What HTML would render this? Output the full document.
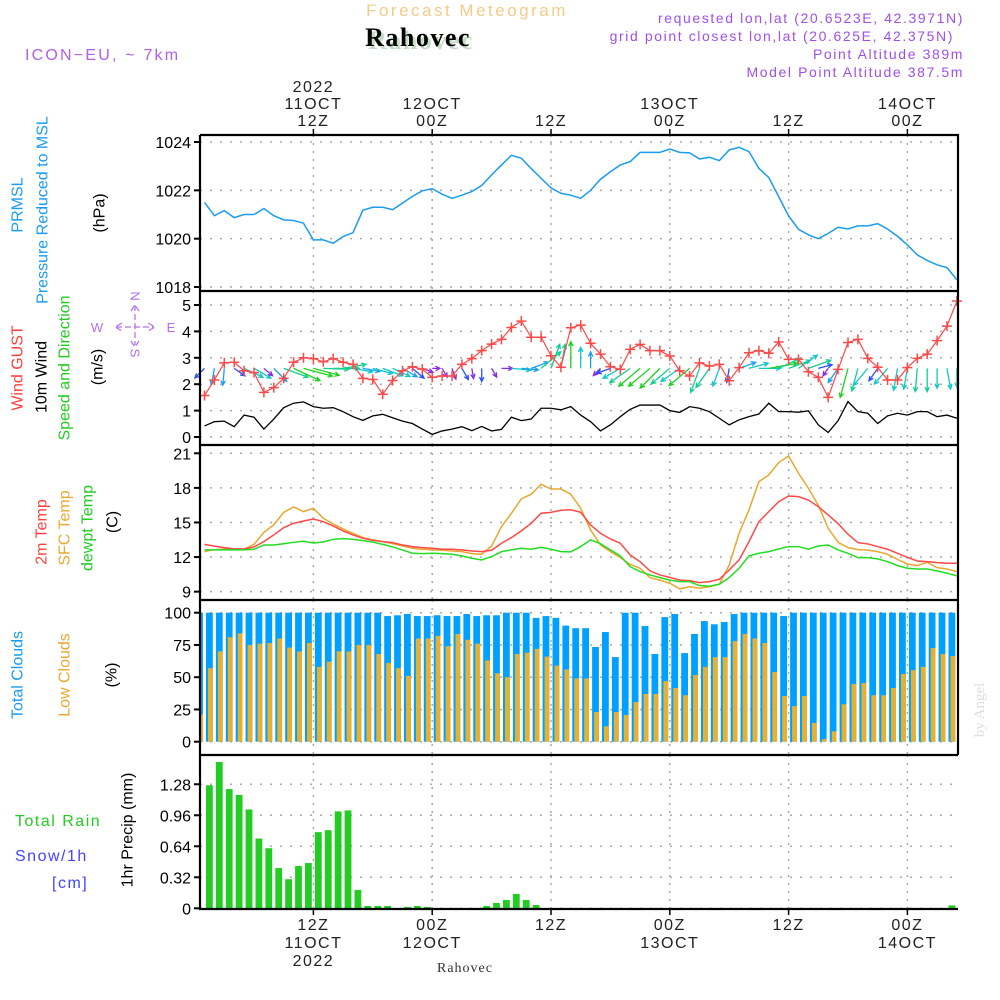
<!DOCTYPE html>
<html><head><meta charset="utf-8"><style>
body{margin:0;background:#fff}
svg{display:block}
text{font-family:"Liberation Sans",sans-serif}
text.serif{font-family:"Liberation Serif",serif}
</style></head><body>
<svg id="chart" width="1000" height="1000" viewBox="0 0 1000 1000" xmlns="http://www.w3.org/2000/svg">
<rect width="1000" height="1000" fill="#fff"/>
<text x="467" y="16" text-anchor="middle" font-size="17" letter-spacing="2.5" fill="#f2cc88">Forecast Meteogram</text>
<text class="serif" x="421" y="49" text-anchor="middle" font-weight="bold" font-size="26" letter-spacing="1.5" fill="#c6dcc6">Rahovec</text>
<text class="serif" x="418" y="46" text-anchor="middle" font-weight="bold" font-size="26" letter-spacing="1.5" fill="#000">Rahovec</text>
<text x="25" y="60" font-size="16" letter-spacing="2.2" fill="#b060e8">ICON−EU, ~ 7km</text>
<g font-size="14" letter-spacing="1.6" fill="#a050e8" text-anchor="end">
<text x="964" y="23">requested lon,lat (20.6523E, 42.3971N)</text>
<text x="954" y="41">grid point closest lon,lat (20.625E, 42.375N)</text>
<text x="964" y="59">Point Altitude 389m</text>
<text x="964" y="77">Model Point Altitude 387.5m</text>
</g>
<text class="serif" transform="translate(984,710) rotate(-90)" text-anchor="middle" font-size="15" fill="#ddd">by Angel</text>
<text class="serif" x="465" y="972" text-anchor="middle" font-size="14" letter-spacing="1" fill="#333">Rahovec</text>
<g id="g"></g>
</svg>
<script>
// ---- data (hourly from 01Z 11 OCT 2022) ----
const pressure=[1021.5,1020.95,1021.16,1020.87,1021.0,1021.0,1021.25,1020.95,1020.78,1020.75,1020.64,1019.95,1019.95,1019.81,1020.09,1020.25,1021.18,1021.3,1021.3,1021.2,1021.47,1021.75,1021.98,1022.07,1021.84,1021.67,1021.8,1021.95,1022.2,1022.64,1023.05,1023.45,1023.33,1022.9,1022.5,1022.1,1021.88,1021.8,1021.67,1022.0,1022.46,1022.77,1023.05,1023.19,1023.57,1023.57,1023.57,1023.71,1023.57,1023.55,1023.3,1023.37,1023.23,1023.67,1023.78,1023.6,1022.91,1022.53,1021.74,1020.94,1020.39,1020.16,1020.0,1020.22,1020.47,1020.4,1020.53,1020.53,1020.62,1020.4,1020.1,1019.74,1019.33,1019.1,1018.92,1018.8,1018.3];
const gust=[1.57,2.16,2.81,2.83,2.51,2.44,1.69,1.87,2.22,2.83,3.0,2.97,2.85,2.97,2.83,2.75,2.22,2.18,1.62,2.14,2.51,2.66,2.57,2.26,2.31,2.31,2.75,2.97,3.27,3.52,3.70,4.15,4.39,3.78,3.78,3.08,2.64,4.14,4.24,3.55,3.14,2.66,2.56,3.32,3.51,3.27,3.27,3.07,2.51,2.31,2.81,2.69,2.75,2.13,2.63,3.19,3.27,3.17,3.6,2.94,2.94,2.47,2.26,1.50,2.56,3.58,3.7,2.98,2.64,2.16,2.16,2.63,2.98,3.14,3.65,4.2,5.15];
const wind10=[0.42,0.58,0.6,0.39,0.83,0.75,0.3,0.68,1.11,1.28,1.33,1.15,1.09,1.11,0.96,0.77,0.63,0.8,0.86,0.73,0.6,0.51,0.3,0.10,0.23,0.3,0.39,0.24,0.4,0.23,0.29,0.75,0.62,0.68,1.09,1.09,1.03,1.15,0.83,0.58,0.23,0.46,0.77,1.05,1.21,1.21,1.21,1.0,0.93,1.15,1.09,0.96,0.71,0.46,0.65,0.77,0.87,1.28,0.96,0.96,0.94,0.99,0.46,0.17,0.62,1.34,0.96,0.9,0.51,0.8,0.9,0.83,0.96,0.96,0.77,0.83,0.71];
const windAngle=[135,100,95,35,25,30,40,45,20,25,15,15,2,0,-10,10,10,15,20,25,30,40,20,0,60,70,60,80,90,60,0,5,5,-20,-40,-70,-80,-90,-90,-90,135,160,150,145,140,140,135,140,145,140,110,125,110,100,-20,-15,0,-10,-25,-20,-35,-20,-15,125,125,105,105,130,125,130,100,100,95,90,90,80,90];
const temp2m=[13.1,12.95,12.82,12.7,12.7,12.88,13.34,13.92,14.55,14.93,15.13,15.3,15.07,14.7,14.27,13.92,13.63,13.46,13.34,13.25,13.05,12.91,12.82,12.76,12.68,12.68,12.62,12.53,12.47,12.59,13.2,13.69,14.27,14.93,15.8,15.88,16.06,16.1,15.88,14.78,14.06,13.57,13.2,12.18,11.6,10.8,10.45,10.24,10.0,9.96,9.78,9.87,10.07,10.88,11.75,13.34,15.07,15.94,16.8,17.3,17.24,16.95,16.37,15.65,14.9,13.98,13.25,13.14,12.91,12.68,12.33,11.98,11.66,11.6,11.52,11.46,11.46];
const tempSfc=[12.47,12.65,12.7,12.7,12.7,13.1,14.15,14.79,15.88,16.35,15.94,16.23,15.36,14.87,14.44,14.06,13.69,13.49,13.34,13.16,12.96,12.76,12.68,12.62,12.59,12.53,12.47,12.3,12.24,12.96,14.64,15.8,17.04,17.45,18.31,17.9,17.9,17.45,16.23,14.35,13.05,12.47,11.95,11.37,11.03,10.22,10.0,9.73,9.24,9.44,9.3,9.44,9.64,11.32,14.06,16.1,18.54,19.12,20.2,20.77,19.27,17.97,16.5,14.5,13.28,12.82,12.65,12.6,12.47,12.24,11.8,11.4,11.26,11.55,11.08,10.97,10.74];
const dewpt=[12.62,12.62,12.62,12.62,12.62,12.68,13.05,13.05,13.16,13.28,13.37,13.22,13.31,13.54,13.6,13.54,13.43,13.31,13.1,12.88,12.62,12.33,12.3,12.33,12.3,12.24,12.1,11.9,11.75,12.04,12.47,12.62,12.76,12.68,12.85,12.68,12.47,12.45,12.91,13.49,13.16,12.62,12.1,11.17,10.74,10.45,10.22,10.0,9.87,9.87,9.53,9.47,9.64,10.22,11.03,12.1,12.33,12.47,12.7,12.91,12.91,12.68,12.96,13.05,12.62,12.33,11.95,11.95,11.84,11.6,11.26,11.03,10.97,10.97,10.8,10.6,10.37];
// bars: 78 hourly bars starting 00Z 11 OCT
const totalClouds=[100,100,100,100,100,100,100,100,100,100,100,100,100,100,100,100,100,100,100,97.4,98,99,97.4,97.4,98,97.4,97.4,99,97.4,98,98,100,100,100,96,97.4,96,90,88,88,73.4,85,65.6,100,100,89.7,68,96.6,99,68.7,83.5,93.5,91,92.8,99,100,100,100,100,97.4,100,100,100,100,100,100,100,100,100,100,100,100,100,100,100,100,100,80.4];
const lowClouds=[21,57,70,81,84,75,76,76.5,80,73,70,76.5,58,62,70,70,75,75,68,61,57,51,80,80,82,74,83.5,79,76,63,53,50,68,69,72,66,59,56,49,49,23,12,23,20.7,30.7,37,37,47,41.6,36,51.7,58,65.6,65.6,78,83.5,80,76.5,54,35.4,27.6,35.4,14.5,2,8,29,44.7,45.5,36,36,41.6,52.5,55.5,58,72.6,68,66.4,65.6];
const precip=[0,1.27,1.51,1.23,1.17,1.02,0.72,0.62,0.415,0.30,0.436,0.467,0.786,0.806,1.0,1.01,0.19,0.024,0.024,0.024,0,0.014,0.024,0.014,0,0,0,0,0,0.024,0.055,0.086,0.148,0.086,0.034,0,0,0,0,0,0,0,0,0,0,0,0,0,0,0,0,0,0,0,0,0,0,0,0,0,0,0,0,0,0,0,0,0,0,0,0,0,0,0,0,0,0.03,0];
const pTicks=[1024,1022,1020,1018];
const wTicks=[0,1,2,3,4,5];
const tTicks=[9,12,15,18,21];
const cTicks=[0,25,50,75,100];
const rTicks=[0,0.32,0.64,0.96,1.28];
const rTickLabels=["0","0.32","0.64","0.96","1.28"];
const timeMarks=[11,23,35,47,59,71];
const topLabels=[["2022","11OCT","12Z"],["","12OCT","00Z"],["","","12Z"],["","13OCT","00Z"],["","","12Z"],["","14OCT","00Z"]];
const botLabels=[["12Z","11OCT","2022"],["00Z","12OCT",""],["12Z","",""],["00Z","13OCT",""],["12Z","",""],["00Z","14OCT",""]];

// ---- scales ----
const X0=200,X1=958;
const xi=i=>204.5+i*9.9;
const yP=v=>142+(1024-v)*24.17;
const yW=v=>437-v*26.4;
const yT=v=>453.3+(21-v)*11.53;
const yC=v=>741.7-v*1.29;
const yR=v=>908.3-v*96.9;
const NS="http://www.w3.org/2000/svg";
const G=document.getElementById('g');
function mk(tag,attrs,parent){const e=document.createElementNS(NS,tag);for(const k in attrs)e.setAttribute(k,attrs[k]);(parent||G).appendChild(e);return e;}
function txt(s,attrs,parent){const e=mk('text',attrs,parent);e.textContent=s;return e;}

const defs=mk('defs',{});
const cp=mk('clipPath',{id:'plotclip'},defs);
mk('rect',{x:X0,y:130,width:X1-X0,height:785},cp);

const panels=[
 {top:135,bot:291,ticks:pTicks,lab:pTicks.map(String),f:yP,name:'pressure'},
 {top:291,bot:445,ticks:wTicks,lab:wTicks.map(String),f:yW,name:'wind'},
 {top:445,bot:600,ticks:tTicks,lab:tTicks.map(String),f:yT,name:'temperature'},
 {top:600,bot:755,ticks:cTicks,lab:cTicks.map(String),f:yC,name:'clouds'},
 {top:755,bot:909,ticks:rTicks,lab:rTickLabels,f:yR,name:'precip'}
];
panels.forEach((p,pi)=>{
 const grp=mk('g',{});
 
 
 timeMarks.forEach(h=>{
  const l=mk('line',{x1:xi(h),x2:xi(h),y1:p.top,y2:p.bot,stroke:'#aaa','stroke-width':1.5,'stroke-dasharray':'2,6'},grp);
  
  
 });
 p.ticks.forEach((t,k)=>{
  const y=p.f(t);
  const l=mk('line',{x1:X0,x2:X1,y1:y,y2:y,stroke:'#aaa','stroke-width':1.5,'stroke-dasharray':'2,8'},grp);
  
  
  const tk=mk('line',{x1:X0-6,x2:X0,y1:y,y2:y,stroke:'#000','stroke-width':2},grp);
  
  
  const tl=txt(p.lab[k],{x:X0-9,y:y+6,'text-anchor':'end','font-size':16,fill:'#000'},grp);
  
  
 });
});

const pl=mk('polyline',{points:pressure.map((v,i)=>xi(i)+','+yP(v)).join(' '),fill:'none',stroke:'#1a9cf0','stroke-width':1.5,'clip-path':'url(#plotclip)'});



const wl=mk('polyline',{points:wind10.map((v,i)=>xi(i)+','+yW(v)).join(' '),fill:'none',stroke:'#000','stroke-width':1.3});



function windColor(s){if(s<0.35)return '#8a2be2';if(s<0.55)return '#2a50ff';if(s<0.7)return '#18a0f0';if(s<0.95)return '#10c8c8';if(s<1.15)return '#10d090';return '#20d020';}
const ag=mk('g',{});


windAngle.forEach((a,i)=>{
 const s=wind10[i],L=6+s*18,r=a*Math.PI/180;
 const x0=xi(i),y0=yW(2.6),x1=x0+L*Math.cos(r),y1=y0+L*Math.sin(r);
 const c=windColor(s);
 const h1=r+Math.PI-0.45,h2=r+Math.PI+0.45;
 const p=mk('path',{d:`M${x0},${y0}L${x1},${y1}M${x1+5*Math.cos(h1)},${y1+5*Math.sin(h1)}L${x1},${y1}L${x1+5*Math.cos(h2)},${y1+5*Math.sin(h2)}`,stroke:c,'stroke-width':1.3,fill:'none'},ag);
 
 
});

const gl=mk('polyline',{points:gust.map((v,i)=>xi(i)+','+yW(v)).join(' '),fill:'none',stroke:'#ff4848','stroke-width':1.2});


gust.forEach((v,i)=>{
 const x=xi(i),y=yW(v);
 const m=mk('path',{d:`M${x-5},${y}H${x+5}M${x},${y-5}V${y+5}`,stroke:'#ff4848','stroke-width':1.5});
 
 
});

[[tempSfc,'#e8a830','sfc-temp-line'],[temp2m,'#ff4848','temp-2m-line'],[dewpt,'#22dd22','dewpoint-line']].forEach(([arr,c,n])=>{
 const l=mk('polyline',{points:arr.map((v,i)=>xi(i)+','+yT(v)).join(' '),fill:'none',stroke:c,'stroke-width':1.5});
 
 
});

const cg=mk('g',{'clip-path':'url(#plotclip)'});


totalClouds.forEach((v,j)=>{
 const x=xi(j-1)+1.5;
 const b=mk('rect',{x:x,y:yC(v),width:6.8,height:yC(0)-yC(v),fill:'#00a0ff'},cg);
 
 
 const lv=lowClouds[j];
 const o=mk('rect',{x:x+2,y:yC(lv),width:4.8,height:yC(0)-yC(lv),fill:'#e8b030'},cg);
 
 
});

const rg=mk('g',{'clip-path':'url(#plotclip)'});


precip.forEach((v,j)=>{
 if(v<=0)return;
 const b=mk('rect',{x:xi(j-1)+1.5,y:yR(v),width:6.8,height:yR(0)-yR(v),fill:'#22cc22'},rg);
 
 
});

const fg=mk('g',{stroke:'#000','stroke-width':2.2,fill:'none'});


mk('path',{d:`M${X0},135H${X1}V755M${X0},135V909H${X1}M${X0},291H${X1}M${X0},445H${X1}M${X0},600H${X1}M${X0},755H${X1}`},fg);

timeMarks.forEach((h,k)=>{
 const x=xi(h);
 const t1=mk('line',{x1:x,x2:x,y1:129,y2:135,stroke:'#000','stroke-width':1.5});
 
 
 const t2=mk('line',{x1:x,x2:x,y1:909,y2:915,stroke:'#000','stroke-width':1.5});
 
 
 topLabels[k].forEach((s,r)=>{if(!s)return;
  const t=txt(s,{x:x,y:92+r*17,'text-anchor':'middle','font-size':16,'letter-spacing':1.5,fill:'#222'});
  
  
 });
 botLabels[k].forEach((s,r)=>{if(!s)return;
  const t=txt(s,{x:x,y:930+r*18,'text-anchor':'middle','font-size':16,'letter-spacing':1.5,fill:'#222'});
  
  
 });
});
</script>
<script>
(function(){
const NS="http://www.w3.org/2000/svg";
const svg=document.getElementById('chart');
const labs=[
 ['PRMSL',18,205,'#1a9cf0','prmsl-label'],
 ['Pressure Reduced to MSL',43,210,'#1a9cf0','pressure-label'],
 ['(hPa)',100,213,'#000','hpa-unit-label'],
 ['Wind GUST',18,368,'#ff4040','gust-label'],
 ['10m Wind',42,377,'#000','wind10-label'],
 ['Speed and Direction',65,368,'#22cc22','speed-direction-label'],
 ['(m/s)',98,367,'#000','ms-unit-label'],
 ['2m Temp',42,532,'#ff4040','temp2m-label'],
 ['SFC Temp',65,528,'#e8a830','sfc-temp-label'],
 ['dewpt Temp',88,528,'#22cc22','dewpt-label'],
 ['(C)',113,522,'#000','celsius-unit-label'],
 ['Total Clouds',18,675,'#1a9cf0','total-clouds-label'],
 ['Low Clouds',65,675,'#e8a830','low-clouds-label'],
 ['(%)',112,675,'#000','percent-unit-label'],
 ['1hr Precip (mm)',128,830,'#000','precip-unit-label']
];
labs.forEach(([s,x,y,c,n])=>{
 const t=document.createElementNS(NS,'text');
 t.setAttribute('transform',`translate(${x},${y}) rotate(-90)`);
 t.setAttribute('text-anchor','middle');
 t.setAttribute('dominant-baseline','central');
 t.setAttribute('font-size','16');
 t.setAttribute('fill',c);
 
 
 t.textContent=s;svg.appendChild(t);
});
const hl=[['Total  Rain',15,826,'#22cc22','rain-label'],['Snow/1h',15,861,'#4444ff','snow-label'],['[cm]',52,888,'#4444ff','cm-label']];
hl.forEach(([s,x,y,c,n])=>{
 const t=document.createElementNS(NS,'text');
 t.setAttribute('x',x);t.setAttribute('y',y);
 t.setAttribute('font-size','16');t.setAttribute('letter-spacing','1.5');
 t.setAttribute('fill',c);t.setAttribute('xml:space','preserve');
 
 
 t.textContent=s;svg.appendChild(t);
});
const cg=document.createElementNS(NS,'g');


cg.setAttribute('fill','#b070f0');cg.setAttribute('font-size','13');
cg.innerHTML='<text x="97" y="332" text-anchor="middle">W</text><text x="171" y="332" text-anchor="middle">E</text>'+
'<text transform="translate(135,296) rotate(90)" text-anchor="middle" dominant-baseline="central">N</text>'+
'<text transform="translate(135,353) rotate(90)" text-anchor="middle" dominant-baseline="central">S</text>'+
'<path d="M122,323l-7,4l7,4M148,323l7,4l-7,4M116,327h38M135,305v40M131,311l4,-6l4,6M131,341l4,6l4,-6" stroke="#b070f0" stroke-width="1.2" fill="none" stroke-dasharray="6,3"/>';
svg.appendChild(cg);
})();
</script>
</body></html>
